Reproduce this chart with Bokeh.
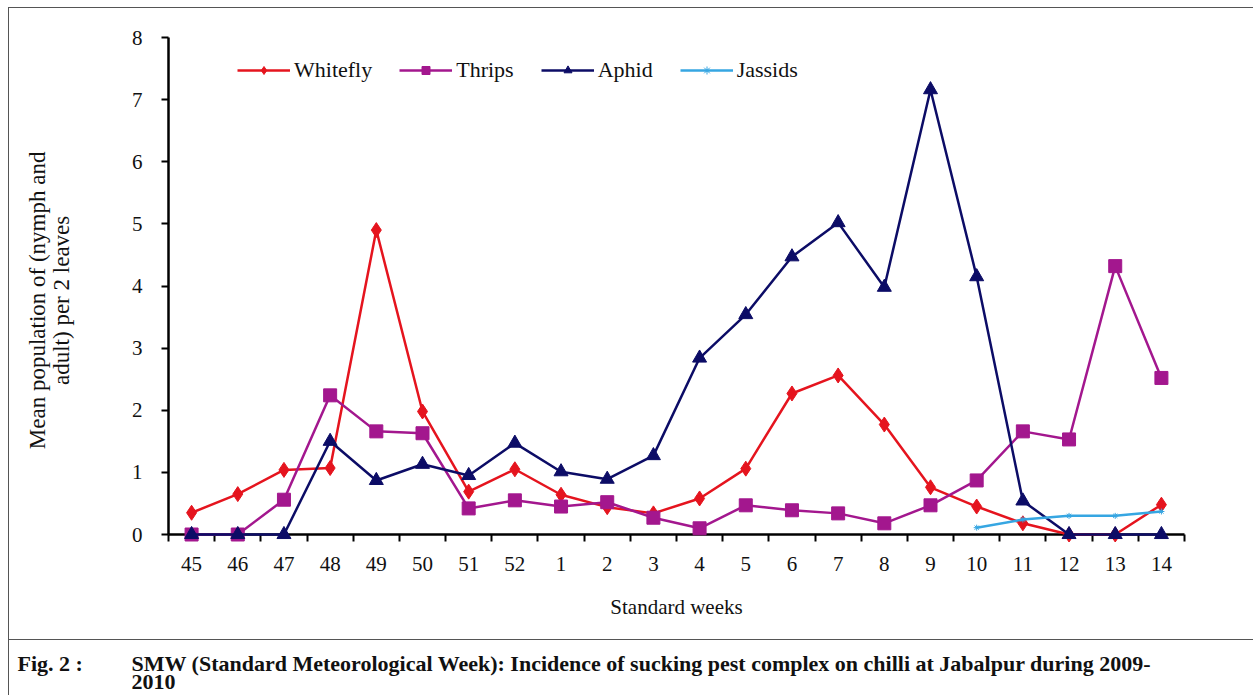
from bokeh.plotting import figure
from bokeh.layouts import column
from bokeh.models import (Range1d, FixedTicker, Legend, LegendItem, Label,
                          ColumnDataSource)
from bokeh.embed import file_html
from bokeh.resources import INLINE

nan = float("nan")

weeks = ["45", "46", "47", "48", "49", "50", "51", "52", "1", "2", "3",
         "4", "5", "6", "7", "8", "9", "10", "11", "12", "13", "14"]
whitefly = [0.35, 0.65, 1.04, 1.07, 4.90, 1.98, 0.69, 1.05, 0.64, 0.44, 0.34,
            0.58, 1.06, 2.27, 2.56, 1.77, 0.76, 0.45, 0.18, 0.0, 0.0, 0.48]
thrips = [0.0, 0.0, 0.56, 2.24, 1.66, 1.63, 0.42, 0.55, 0.45, 0.52, 0.27,
          0.10, 0.47, 0.39, 0.34, 0.18, 0.47, 0.87, 1.66, 1.53, 4.32, 2.52]
aphid = [0.0, 0.0, 0.0, 1.50, 0.87, 1.13, 0.95, 1.47, 1.01, 0.89, 1.27,
         2.84, 3.54, 4.47, 5.02, 3.98, 7.16, 4.15, 0.54, 0.0, 0.0, 0.0]
jassids = [nan, nan, nan, nan, nan, nan, nan, nan, nan, nan, nan,
           nan, nan, nan, nan, nan, nan, 0.11, 0.24, 0.30, 0.30, 0.37]
yticks = [0, 1, 2, 3, 4, 5, 6, 7, 8]

ylabel_lines = ["Mean population of (nymph and", "adult) per 2 leaves"]
caption_label = "Fig. 2 :"
caption_line1 = ("SMW (Standard Meteorological Week): Incidence of sucking pest "
                 "complex on chilli at Jabalpur during 2009-")
caption_line2 = "2010"

xs = list(range(len(weeks)))

SERIF = "Liberation Serif"
BORDER = "1px solid #555"
PAD = "\u00a0" * 5  # nudges the rotated label block downwards

p = figure(width=1245, height=632,
           x_range=Range1d(-0.5, len(weeks) - 0.5), y_range=Range1d(0, 8),
           output_backend="svg", toolbar_location=None,
           min_border_left=159, min_border_right=70,
           min_border_top=29, min_border_bottom=106)
p.grid.visible = False
p.outline_line_color = None
p.background_fill_color = "white"
p.border_fill_color = "white"
p.styles = {"border-top": BORDER, "border-left": BORDER}

# x axis: labels at category centres, tick marks at boundaries (minor ticks)
xa = p.xaxis[0]
xa.ticker = FixedTicker(ticks=xs, minor_ticks=[i - 0.5 for i in range(len(weeks) + 1)])
xa.major_label_overrides = {i: w for i, w in enumerate(weeks)}
xa.major_tick_out = 0
xa.major_tick_in = 0
xa.minor_tick_out = 7
xa.minor_tick_in = 0
xa.minor_tick_line_color = "black"
xa.minor_tick_line_width = 2
xa.axis_line_color = "black"
xa.axis_line_width = 2.5
xa.major_label_text_font = SERIF
xa.major_label_text_font_size = "21px"
xa.major_label_text_color = "#111"
xa.major_label_standoff = 15
xa.axis_label = "Standard weeks"
xa.axis_label_text_font = SERIF
xa.axis_label_text_font_size = "21px"
xa.axis_label_text_font_style = "normal"
xa.axis_label_text_color = "#111"
xa.axis_label_standoff = 21

ya = p.yaxis[0]
ya.ticker = FixedTicker(ticks=yticks)
ya.major_tick_out = 7
ya.major_tick_in = 0
ya.major_tick_line_width = 2
ya.major_tick_line_color = "black"
ya.minor_tick_line_color = None
ya.axis_line_color = "black"
ya.axis_line_width = 2.5
ya.major_label_text_font = SERIF
ya.major_label_text_font_size = "21px"
ya.major_label_text_color = "#111"
ya.major_label_standoff = 19
ya.axis_label = "\n".join(line + PAD for line in ylabel_lines)
ya.axis_label_text_font = SERIF
ya.axis_label_text_font_size = "23px"
ya.axis_label_text_line_height = 0.95
ya.axis_label_text_font_style = "normal"
ya.axis_label_text_color = "#111"
ya.axis_label_standoff = 55

series = [
    ("Whitefly", whitefly, "#E5141E", "diamond", 15),
    ("Thrips", thrips, "#A3178E", "square", 13),
    ("Aphid", aphid, "#0C0C66", "triangle", 14),
    ("Jassids", jassids, "#36A6E2", "asterisk", 6),
]

items = []
for name, vals, color, marker, size in series:
    src = ColumnDataSource(dict(x=xs, y=vals))
    lr = p.line("x", "y", source=src, line_color=color, line_width=2.5, level="overlay")
    sr = p.scatter("x", "y", source=src, marker=marker, size=size,
                   fill_color=color, line_color=color, line_width=1, level="overlay")
    items.append(LegendItem(label=name, renderers=[lr, sr]))

legend = Legend(items=items, orientation="horizontal", location=(69, 451),
                label_text_font=SERIF, label_text_font_size="22px",
                label_text_color="#111",
                glyph_width=53, glyph_height=20, label_height=20,
                label_standoff=4, spacing=27, padding=0, margin=0,
                border_line_color=None, background_fill_alpha=0)
p.add_layout(legend)

# caption block below the chart
CAP_W, CAP_H = 1245, 56
cap = figure(width=CAP_W, height=CAP_H, x_range=Range1d(0, CAP_W), y_range=Range1d(0, CAP_H),
             x_axis_location=None, y_axis_location=None, min_border=0,
             output_backend="svg", toolbar_location=None)
cap.frame_align = False
p.frame_align = False
cap.grid.visible = False
cap.outline_line_color = None
cap.background_fill_color = "white"
cap.border_fill_color = "white"
cap.styles = {"border-top": BORDER, "border-left": BORDER}

cap_style = dict(x_units="screen", y_units="screen", text_font=SERIF,
                 text_font_style="bold", text_font_size="22px",
                 text_baseline="middle", text_color="#111")
cap.add_layout(Label(x=8, y=33, text=caption_label, **cap_style))
cap.add_layout(Label(x=122, y=33, text=caption_line1, **cap_style))
cap.add_layout(Label(x=122, y=15, text=caption_line2, **cap_style))

layout = column(p, cap, margin=(7, 0, 0, 8), spacing=0)

open("out.html", "w").write(file_html(layout, INLINE))
